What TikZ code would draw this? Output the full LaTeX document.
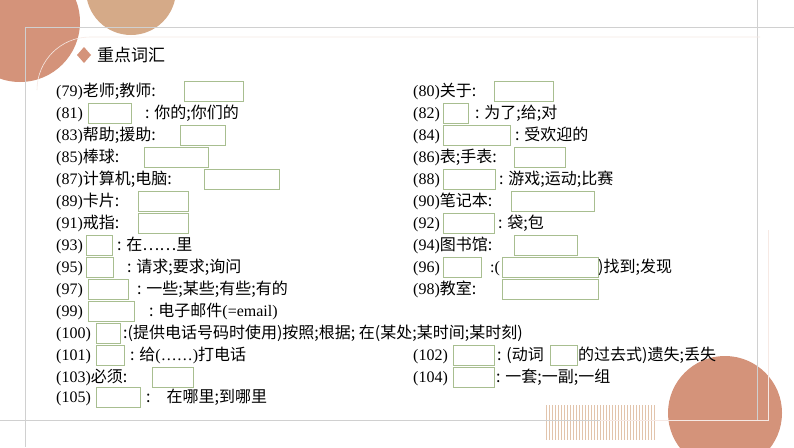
\documentclass[tikz,border=0pt]{standalone}
\usepackage{fontspec}
\setmainfont{Liberation Serif}
\newfontfamily\cjk{Noto Sans CJK SC}
\definecolor{terra}{HTML}{D4937A}
\definecolor{sand}{HTML}{D5AA88}
\definecolor{boxc}{HTML}{A8BE90}
\definecolor{frame}{HTML}{D0D0D0}
\newcommand\bx[3]{\draw[bx] (#1,{#3-10}) rectangle (#2,{#3+10});}
\newcommand\tx[3]{\node[tx] at (#1,{#2+5.5}) {#3};}
\begin{document}
\begin{tikzpicture}[x=1pt,y=-1pt,
  bx/.style={draw=boxc,line width=0.8pt},
  tx/.style={anchor=base west,inner sep=0pt,font=\fontsize{16}{18}\selectfont}]
\useasboundingbox (0,0) rectangle (794,447);
\fill[white] (0,0) rectangle (794,447);
% decorations
\fill[terra] (20,22) circle (60);
\fill[sand] (131,-10) circle (45);
\fill[terra] (725,413) circle (57);
\foreach \i in {0,...,36} {\draw[sand!70,line width=0.6pt] ({546+\i*3},405) -- ({546+\i*3},440);}
\draw[frame,line width=0.7pt] (25,27) -- (794,27);
\draw[frame,line width=0.7pt] (25,27) -- (25,447);
\draw[frame,line width=0.7pt] (0,420) -- (757,420) -- (757,0);
\draw[white!80!terra,line width=0.6pt] (37,90) arc (180:270:53) -- (760,37);
\draw[white!80!terra,line width=0.6pt] (768,230) -- (768,420) -- (600,420);
% title
\fill[terra] (84,47) -- (91,55) -- (84,63) -- (77,55) -- cycle;
\node[anchor=west,inner sep=0pt,font=\cjk\fontsize{17}{20}\selectfont] (title) at (97,55) {重点词汇};
% left column
\tx{56}{91}{(79){\cjk 老师;教师:}} \bx{184}{243}{91}
\tx{56}{113}{(81)} \bx{88}{131}{113} \tx{145}{113}{\cjk : 你的;你们的}
\tx{56}{135}{(83){\cjk 帮助;援助:}} \bx{180}{225}{135}
\tx{56}{157}{(85){\cjk 棒球:}} \bx{144}{208}{157}
\tx{56}{179}{(87){\cjk 计算机;电脑:}} \bx{204}{279}{179}
\tx{56}{201}{(89){\cjk 卡片:}} \bx{138}{188}{201}
\tx{56}{223}{(91){\cjk 戒指:}} \bx{138}{188}{223}
\tx{56}{245}{(93)} \bx{86}{112}{245} \tx{117}{245}{\cjk : 在……里}
\tx{56}{267}{(95)} \bx{86}{113}{267} \tx{127}{267}{\cjk : 请求;要求;询问}
\tx{56}{289}{(97)} \bx{88}{128}{289} \tx{137}{289}{\cjk : 一些;某些;有些;有的}
\tx{56}{311}{(99)} \bx{88}{134}{311} \tx{149}{311}{{\cjk : 电子邮件}(=email)}
\tx{56}{333}{(100)} \bx{96}{120}{333} \tx{123}{333}{\cjk :(提供电话号码时使用)按照;根据; 在(某处;某时间;某时刻)}
\tx{56}{355}{(101)} \bx{96}{124}{355} \tx{130}{355}{{\cjk : 给}(……){\cjk 打电话}}
\tx{56}{377}{(103){\cjk 必须:}} \bx{152}{193}{377}
\tx{56}{397}{(105)} \bx{96}{140}{397} \tx{146}{397}{\cjk :\quad 在哪里;到哪里}
% right column
\tx{413}{91}{(80){\cjk 关于:}} \bx{494}{553}{91}
\tx{413}{113}{(82)} \bx{443}{468}{113} \tx{475}{113}{\cjk : 为了;给;对}
\tx{413}{135}{(84)} \bx{443}{510}{135} \tx{515}{135}{\cjk : 受欢迎的}
\tx{413}{157}{(86){\cjk 表;手表:}} \bx{514}{565}{157}
\tx{413}{179}{(88)} \bx{443}{495}{179} \tx{499}{179}{\cjk : 游戏;运动;比赛}
\tx{413}{201}{(90){\cjk 笔记本:}} \bx{511}{594}{201}
\tx{413}{223}{(92)} \bx{443}{494}{223} \tx{498}{223}{\cjk : 袋;包}
\tx{413}{245}{(94){\cjk 图书馆:}} \bx{514}{577}{245}
\tx{413}{267}{(96)} \bx{443}{481}{267} \tx{490}{267}{:(} \bx{502}{598}{267} \tx{598}{267}{\cjk )找到;发现}
\tx{413}{289}{(98){\cjk 教室:}} \bx{502}{598}{289}
\tx{413}{355}{(102)} \bx{453}{494}{355} \tx{497}{355}{\cjk : (动词} \bx{550}{577}{355} \tx{578}{355}{\cjk 的过去式)遗失;丢失}
\tx{413}{377}{(104)} \bx{453}{494}{377} \tx{496}{377}{\cjk : 一套;一副;一组}
\end{tikzpicture}
\end{document}
